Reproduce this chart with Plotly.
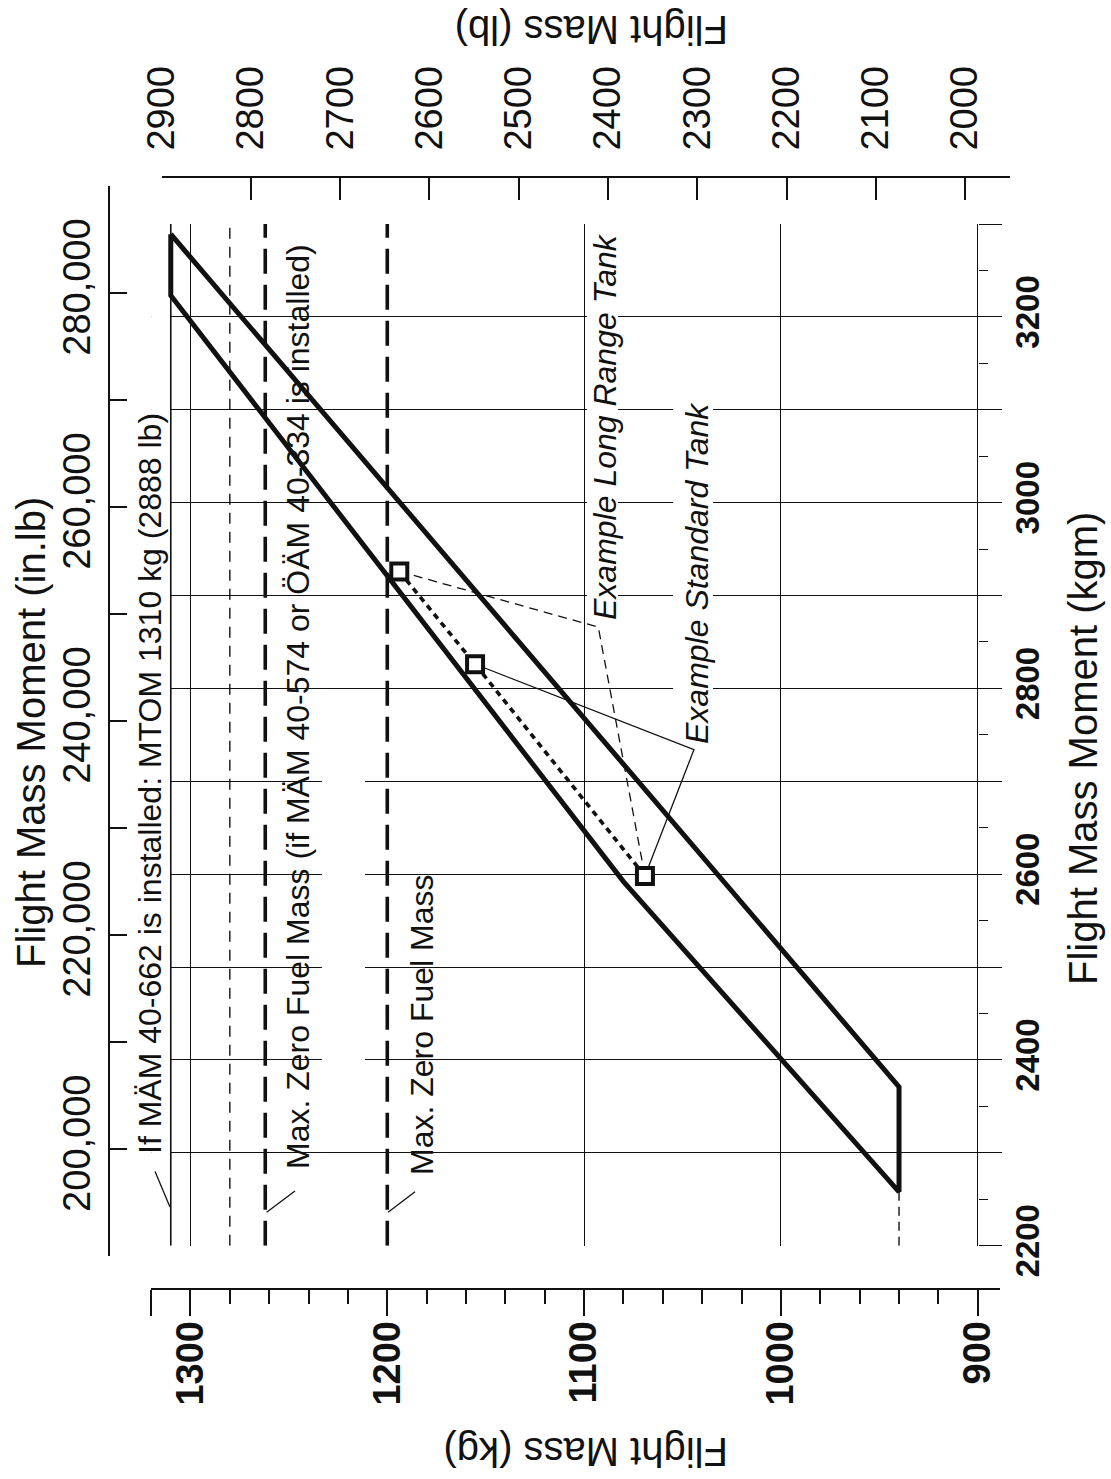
import plotly.graph_objects as go

W, H = 1111, 1479

# ---------------- data ----------------
# bottom axis: Flight Mass (kg)
kg_tickvals = [1320, 1300, 1200, 1100, 1000, 900]
kg_ticktext = ["", "<b>1300</b>", "<b>1200</b>", "<b>1100</b>", "<b>1000</b>", "<b>900</b>"]
kg_range = [1320, 888.7]
grid_kg = [1300, 1100, 1000, 900]

# top axis: Flight Mass (lb)
lb_tickvals = [2900, 2800, 2700, 2600, 2500, 2400, 2300, 2200, 2100, 2000]
lb_ticktext = ["2900", "2800", "2700", "2600", "2500", "2400", "2300", "2200", "2100", "2000"]
lb_range = [2900, 1949.6]

# right axis: Flight Mass Moment (kgm)
kgm_tickvals = [2200, 2300, 2400, 2500, 2600, 2700, 2800, 2900, 3000, 3100, 3200, 3300]
kgm_ticktext = ["<b>2200</b>", "", "<b>2400</b>", "", "<b>2600</b>", "", "<b>2800</b>", "",
                "<b>3000</b>", "", "<b>3200</b>", ""]
kgm_range = [2200, 3300]

# left axis: Flight Mass Moment (in.lb)
inlb_tickvals = [190000, 200000, 210000, 220000, 230000, 240000, 250000, 260000, 270000, 280000, 290000]
inlb_ticktext = ["", "200,000", "", "220,000", "", "240,000", "", "260,000", "", "280,000", ""]
inlb_range = [190000, 290000]

# limit lines (kg)
mtom_mod_kg = 1310
mtom_kg = 1280
mzfm_mod_kg = 1262
mzfm_kg = 1200
min_mass_kg = 940
min_mass_kgm = [2200, 2258]

# CG envelope
env_kg = [1310, 940, 940, 1080, 1310, 1310]
env_kgm = [3289, 2371, 2258, 2592, 3223, 3289]

# examples
ex_kg = [1193.9, 1155.4, 1069.1]
ex_kgm = [2926, 2826, 2598]
lr_leader_kg = [1193.9, 1092.8, 1069.1]
lr_leader_kgm = [2926, 2866, 2598]
std_leader_kg = [1155.4, 1044.2, 1069.1]
std_leader_kgm = [2826, 2734, 2598]

# label leader ticks
lead_mtom_kg, lead_mtom_kgm = [1318.0, 1310.4], [2280, 2241.7]
lead_zfm2_kg, lead_zfm2_kgm = [1246.9, 1261.3], [2259, 2236]
lead_zfm1_kg, lead_zfm1_kgm = [1185.9, 1199.6], [2258, 2236]

# white gaps in the grid (kg0, kg1, kgm0, kgm1)
mask_left = (1320, 1310.4, 2200, 3300)
mask_gaps = [(1233.2, 1211.3, 2350, 2750),
             (1098.5, 1082.8, 2850, 3250),
             (1054.8, 1034.5, 2750, 3150)]

# ---------------- layout geometry (pixels) ----------------
def px(x):
    return x / W

def py(y):
    return 1 - y / H

FONT = "Liberation Sans, Arial, Helvetica, sans-serif"
BLK = "#111111"

fig = go.Figure()

def line(xs, ys, width=1.4, dash="solid", xa="x", ya="y"):
    fig.add_trace(go.Scatter(x=xs, y=ys, mode="lines", xaxis=xa, yaxis=ya,
                             line=dict(color=BLK, width=width, dash=dash),
                             hoverinfo="skip", showlegend=False))

# vertical limit lines
line([mtom_mod_kg, mtom_mod_kg], kgm_range, width=1.6)
line([mtom_kg, mtom_kg], kgm_range, width=1.4, dash="11px,8px")
line([mzfm_mod_kg, mzfm_mod_kg], kgm_range, width=3.6, dash="25px,11px")
line([mzfm_kg, mzfm_kg], kgm_range, width=3.6, dash="25px,11px")
line([min_mass_kg, min_mass_kg], min_mass_kgm, width=1.4, dash="9px,6px")

# envelope
line(env_kg, env_kgm, width=5)

# example lines
line(lr_leader_kg, lr_leader_kgm, width=1.3, dash="9px,6px")
line(std_leader_kg, std_leader_kgm, width=1.3)
line(ex_kg, ex_kgm, width=3.6, dash="6px,5px")

# label leaders
line(lead_mtom_kg, lead_mtom_kgm, width=1.3)
line(lead_zfm2_kg, lead_zfm2_kgm, width=1.3)
line(lead_zfm1_kg, lead_zfm1_kgm, width=1.3)

# example markers
fig.add_trace(go.Scatter(x=ex_kg, y=ex_kgm, mode="markers",
                         marker=dict(symbol="square", size=16, color="white",
                                     line=dict(color=BLK, width=4)),
                         hoverinfo="skip", showlegend=False))

# dummy traces to bind the extra axes
fig.add_trace(go.Scatter(x=[None], y=[None], xaxis="x2", yaxis="y", showlegend=False))
fig.add_trace(go.Scatter(x=[None], y=[None], xaxis="x3", yaxis="y4", showlegend=False))
fig.add_trace(go.Scatter(x=[None], y=[None], xaxis="x5", yaxis="y2", showlegend=False))

# masks
shapes = []
for (a, b, c, d) in [mask_left] + mask_gaps:
    shapes.append(dict(type="rect", xref="x", yref="y", x0=a, x1=b, y0=c, y1=d,
                       fillcolor="white", line=dict(width=0), layer="between"))

x_dom = [px(151.1), px(1000.0)]
y_dom = [py(1245.7), py(224.0)]

fig.update_layout(
    template="none",
    width=W, height=H,
    margin=dict(l=0, r=0, t=0, b=0),
    paper_bgcolor="white",
    plot_bgcolor="rgba(0,0,0,0)",
    showlegend=False,
    font=dict(family=FONT, color=BLK),
    shapes=shapes,
    # main plotting axes (grid)
    xaxis=dict(domain=x_dom, range=kg_range, anchor="y",
               tickmode="array", tickvals=grid_kg, showticklabels=False, ticks="",
               showgrid=True, gridcolor=BLK, gridwidth=1.4, zeroline=False, showline=False),
    yaxis=dict(domain=y_dom, range=kgm_range, anchor="free", position=px(978), side="right",
               tickmode="array", tickvals=kgm_tickvals, ticktext=kgm_ticktext,
               ticks="outside", ticklen=23, tickwidth=1.4, tickcolor=BLK,
               tickangle=-90, tickfont=dict(size=33, family=FONT, color=BLK),
               ticklabelstandoff=-3,
               minor=dict(tickmode="linear", tick0=2250, dtick=100, ticks="outside",
                          ticklen=9, tickwidth=1.4, tickcolor=BLK, showgrid=False),
               showgrid=True, gridcolor=BLK, gridwidth=1.4, zeroline=False, showline=False),
    # bottom kg axis
    xaxis2=dict(overlaying="x", range=kg_range, anchor="free", position=py(1289), side="bottom",
                tickmode="array", tickvals=kg_tickvals, ticktext=kg_ticktext,
                ticks="outside", ticklen=26, tickwidth=1.5, tickcolor=BLK,
                tickangle=-90, tickfont=dict(size=38, family=FONT, color=BLK),
                ticklabelstandoff=-10,
                minor=dict(tickmode="linear", tick0=900, dtick=20, ticks="outside",
                           ticklen=14, tickwidth=1.5, tickcolor=BLK, showgrid=False),
                showline=True, linecolor=BLK, linewidth=1.6, showgrid=False, zeroline=False),
    # top lb axis
    xaxis3=dict(domain=[px(161.7), px(1010)], range=lb_range, anchor="y4", side="top",
                tickmode="array", tickvals=lb_tickvals, ticktext=lb_ticktext,
                ticks="inside", ticklen=22, tickwidth=1.5, tickcolor=BLK,
                tickangle=-90, tickfont=dict(size=38, family=FONT, color=BLK),
                ticklabelstandoff=18,
                showline=True, linecolor=BLK, linewidth=1.6, showgrid=False, zeroline=False),
    yaxis4=dict(domain=[py(200), py(178)], range=[0, 1], visible=False),
    # left in.lb axis
    yaxis2=dict(domain=[py(1255.9), py(185.75)], range=inlb_range, anchor="x5", side="left",
                tickmode="array", tickvals=inlb_tickvals, ticktext=inlb_ticktext,
                ticks="inside", ticklen=17, tickwidth=1.5, tickcolor=BLK,
                tickangle=-90, tickfont=dict(size=38, family=FONT, color=BLK),
                ticklabelstandoff=3,
                showline=True, linecolor=BLK, linewidth=1.6, showgrid=False, zeroline=False),
    xaxis5=dict(domain=[px(110), px(130)], range=[0, 1], visible=False),
)

def ann(text, x, y, angle, size):
    return dict(text=text, x=px(x), y=py(y), xref="paper", yref="paper", showarrow=False,
                textangle=angle, xanchor="center", yanchor="middle",
                font=dict(size=size, family=FONT, color=BLK))

fig.update_layout(annotations=[
    ann("Flight Mass Moment (in.lb)", 31, 733, -90, 40),
    ann("Flight Mass Moment (kgm)", 1083, 749, -90, 40),
    ann("Flight Mass (lb)", 592, 30, 180, 40),
    ann("Flight Mass (kg)", 586, 1452, 180, 40),
    ann("If MÄM 40-662 is installed: MTOM 1310 kg (2888 lb)", 150, 784, -90, 32),
    ann("Max. Zero Fuel Mass (if MÄM 40-574 or ÖÄM 40-334 is installed)", 298, 707, -90, 32),
    ann("Max. Zero Fuel Mass", 422, 1025, -90, 32),
    ann("<i>Example Long Range Tank</i>", 605, 427, -90, 32),
    ann("<i>Example Standard Tank</i>", 697, 573, -90, 32),
])

fig.write_html("out.html", config={"displayModeBar": False},
               post_script="document.body.style.margin='0px';")
